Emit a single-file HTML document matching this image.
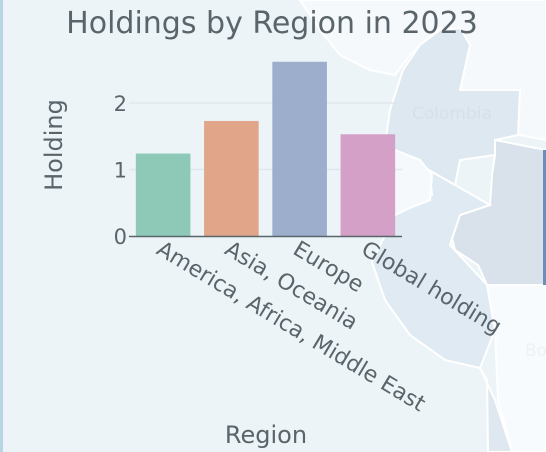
<!DOCTYPE html>
<html><head><meta charset="utf-8"><style>
html,body{margin:0;padding:0;width:546px;height:452px;overflow:hidden;background:#ecf4f7;}
svg{display:block;font-family:"DejaVu Sans","Liberation Sans",sans-serif;}
</style></head><body>
<svg id="chart" width="546" height="452">
  <g>
    <rect x="0" y="0" width="546" height="452" fill="#ecf4f7"/>
    <polygon points="300,0 546,0 546,140 520,135 460,90 470,45 440,28 410,55 395,75 370,70 340,55 320,30" fill="#f6f9fb" stroke="#fff" stroke-width="2"/>
    <polygon points="403,70 420,45 440,30 460,28 470,45 460,90 520,90 518,135 495,140 495,155 460,160 455,185 420,165 400,160 385,145 390,110" fill="#dde8f0" stroke="#fff" stroke-width="2"/>
    <polygon points="495,140 546,150 546,285 487,285 478,265 455,250 450,230 460,215 490,205 492,175 495,155" fill="#d9e1ea" stroke="#fff" stroke-width="2"/>
    <polygon points="400,160 420,165 455,185 490,205 460,215 450,245 487,285 495,330 480,368 445,360 410,335 385,300 372,262 395,215 410,205 432,195 430,175" fill="#dfeaf2" stroke="#fff" stroke-width="2"/>
    <polygon points="395,150 420,160 432,175 430,200 410,208 395,215 385,195" fill="#f6f9fb" stroke="#fff" stroke-width="2"/>
    <polygon points="487,285 546,285 546,452 512,452 498,400 495,330" fill="#f8fbfd" stroke="#fff" stroke-width="2"/>
    <polygon points="480,368 495,400 512,452 488,452 487,380" fill="#dfe8f0" stroke="#fff" stroke-width="2"/>
    <rect x="543" y="150" width="3" height="135" fill="#6b8fb5"/>
    <rect x="0" y="0" width="3" height="452" fill="#b8d6e2"/>
    <text x="412" y="119" font-size="17" fill="#d6e0e8">Colombia</text>
    <text x="525" y="356" font-size="17" fill="#eef2f5">Bo</text>
  </g>
  <text x="272" y="33" text-anchor="middle" font-size="30" fill="#59646b">Holdings by Region in 2023</text>
  <g id="grid"></g>
  <g id="bars"></g>
  <g id="yticks"></g>
  <g id="xticks"></g>
  <line x1="129" y1="236.5" x2="402" y2="236.5" stroke="#59646b" stroke-width="1.5"/>
  <text transform="translate(62,145) rotate(-90)" text-anchor="middle" font-size="24" fill="#59646b">Holding</text>
  <text x="266" y="443" text-anchor="middle" font-size="24" fill="#59646b">Region</text>
</svg>
<script>
const categories = ["America, Africa, Middle East", "Asia, Oceania", "Europe", "Global holding"];
const values = [1.24, 1.73, 2.62, 1.53];
const colors = ["#8ac6b4", "#e0a286", "#9aabcb", "#d39dc6"];
const yTickValues = [0, 1, 2];
const yTickLabels = ["0", "1", "2"];

const NS = "http://www.w3.org/2000/svg";
const x0 = 129, x1 = 402, yBase = 236, yPerUnit = 66.5;
const band = (x1 - x0) / categories.length;
const barW = band * 0.8;
function xCenter(i){ return x0 + band * (i + 0.5); }
function yScale(v){ return yBase - v * yPerUnit; }

const grid = document.getElementById('grid');
const yt = document.getElementById('yticks');
yTickValues.forEach((v, i) => {
  if (v !== 0) {
    const l = document.createElementNS(NS, 'line');
    l.setAttribute('x1', x0); l.setAttribute('x2', x1);
    l.setAttribute('y1', yScale(v)); l.setAttribute('y2', yScale(v));
    l.setAttribute('stroke', '#dde8ee'); l.setAttribute('stroke-width', '1.5');
    
    
    grid.appendChild(l);
  }
  const t = document.createElementNS(NS, 'text');
  t.setAttribute('x', 127); t.setAttribute('y', yScale(v) + 8);
  t.setAttribute('text-anchor', 'end'); t.setAttribute('font-size', '21');
  t.setAttribute('fill', '#59646b');
  t.textContent = yTickLabels[i];
  
  
  yt.appendChild(t);
});

const bars = document.getElementById('bars');
const xt = document.getElementById('xticks');
categories.forEach((c, i) => {
  const r = document.createElementNS(NS, 'rect');
  r.setAttribute('x', xCenter(i) - barW / 2);
  r.setAttribute('y', yScale(values[i]));
  r.setAttribute('width', barW);
  r.setAttribute('height', yBase - yScale(values[i]));
  r.setAttribute('fill', colors[i]);
  r.setAttribute('fill-opacity', '0.97');
  
  
  bars.appendChild(r);
  const t = document.createElementNS(NS, 'text');
  const tx = xCenter(i) - 8, ty = 253;
  t.setAttribute('transform', 'translate(' + tx + ',' + ty + ') rotate(31)');
  t.setAttribute('font-size', '22'); t.setAttribute('fill', '#59646b');
  t.textContent = c;
  
  
  xt.appendChild(t);
});
</script>
</body></html>
